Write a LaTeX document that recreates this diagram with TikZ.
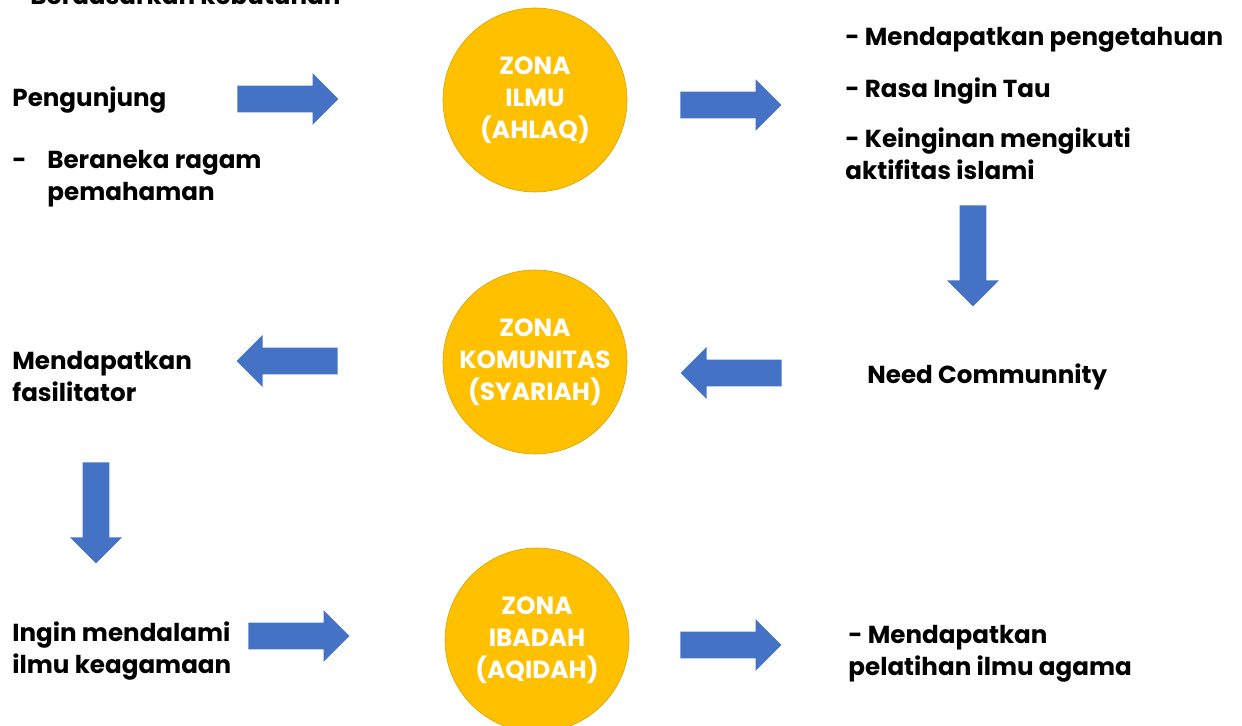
\documentclass[tikz,border=0pt]{standalone}
\usepackage{fontspec}
\setmainfont{Poppins}
\usepackage{tikz}
\usetikzlibrary{shapes.arrows}
\definecolor{zonaorange}{HTML}{FFC000}
\definecolor{zonaedge}{HTML}{D9A400}
\definecolor{panahblue}{HTML}{4472C4}
\begin{document}
\begin{tikzpicture}[x=0.5pt, y=-0.5pt,
    zona/.style={circle, fill=zonaorange, draw=zonaedge, line width=0.3pt, minimum size=92pt,
      inner sep=0pt, text=white, align=center, font=\bfseries\fontsize{12.4}{16}\selectfont},
    teks/.style={anchor=west, align=left, inner sep=0pt, font=\bfseries\fontsize{12.3}{16}\selectfont},
    panah/.style={single arrow, fill=panahblue, draw=none, inner xsep=0pt, inner ysep=6.5pt,
      single arrow head extend=6.25pt, minimum height=50.5pt, anchor=tail},
    panahturun/.style={panah, shape border rotate=270, inner xsep=6.5pt, inner ysep=0pt}]
      \useasboundingbox (0,0) rectangle (1242,726);

      % Baris atas: Pengunjung -> Zona Ilmu
      \node[teks, anchor=base west] (butuh) at (30,5) {Berdasarkan kebutuhan};
      \node[teks] (pengunjung) at (12,100) {Pengunjung};
      \node[teks] (ragam) at (12,179) {\makebox[17.5pt][l]{-}Beraneka ragam\\\hspace*{17.5pt}pemahaman};
      \node[panah] (p1) at (237,99) {};
      \node[zona] (ilmu) at (535,100) {ZONA\\ILMU\\(AHLAQ)};
      \node[panah] (p2) at (680,105) {};
      \node[teks] (tahu1) at (845,40) {- Mendapatkan pengetahuan};
      \node[teks] (tahu2) at (845,91) {- Rasa Ingin Tau};
      \node[teks] (tahu3) at (845,154) {- Keinginan mengikuti\\aktifitas islami};

      % Baris tengah: Need Community -> Zona Komunitas -> fasilitator
      \node[panahturun] (p3) at (973,205) {};
      \node[teks] (need) at (867,377) {Need Communnity};
      \node[panah, shape border rotate=180] (p4) at (782,373) {};
      \node[zona] (komunitas) at (535,362) {ZONA\\KOMUNITAS\\(SYARIAH)};
      \node[panah, shape border rotate=180] (p5) at (338,361) {};
      \node[teks] (fasil) at (12,376) {Mendapatkan\\fasilitator};

      % Baris bawah: keagamaan -> Zona Ibadah -> pelatihan
      \node[panahturun] (p6) at (96,462) {};
      \node[teks] (dalami) at (12,651) {Ingin mendalami\\ilmu keagamaan};
      \node[panah] (p7) at (248,636) {};
      \node[zona] (ibadah) at (537,640) {ZONA\\IBADAH\\(AQIDAH)};
      \node[panah] (p8) at (680,645) {};
      \node[teks] (latih) at (848,654) {- Mendapatkan\\pelatihan ilmu agama};
\end{tikzpicture}
\end{document}
